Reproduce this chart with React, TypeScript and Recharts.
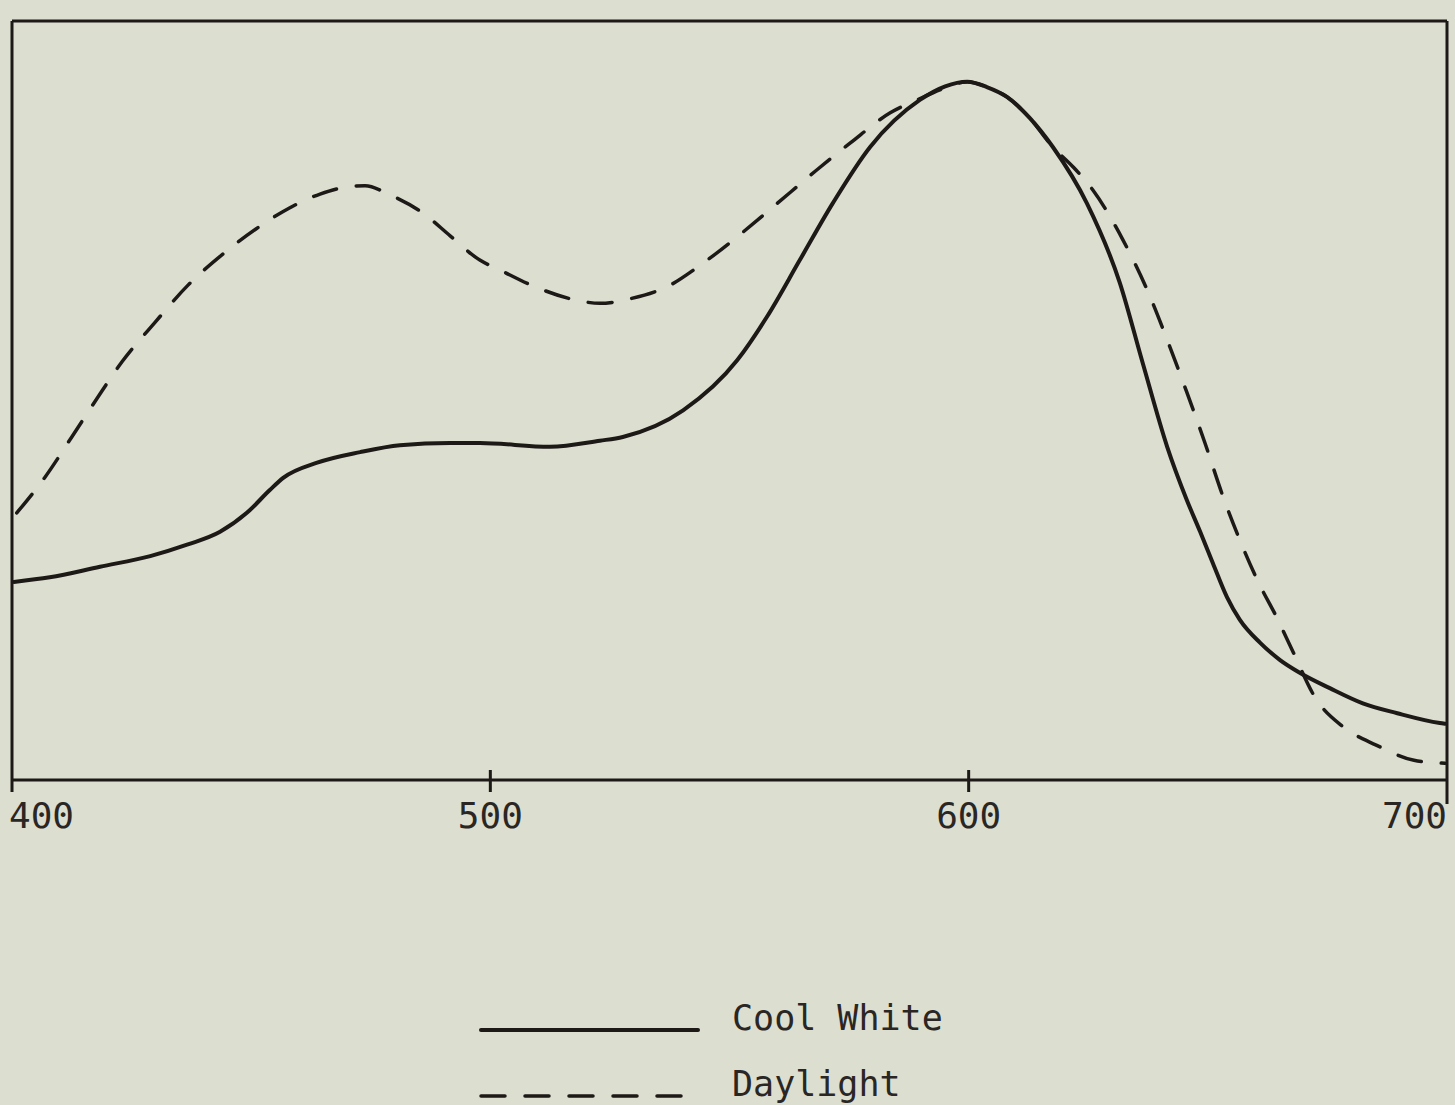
import React from 'react';
import { LineChart, Line, XAxis, YAxis, Legend } from 'recharts';

// wavelength (nm) tick labels
const wavelengthTicks = [400, 500, 600, 700];

// relative spectral power (0..100)
const coolWhite = [
  { nm: 400.4, v: 26.1 },
  { nm: 407.9, v: 26.7 },
  { nm: 418.4, v: 28.1 },
  { nm: 428.9, v: 29.5 },
  { nm: 436.6, v: 31.0 },
  { nm: 443.5, v: 32.7 },
  { nm: 449.1, v: 35.2 },
  { nm: 453.9, v: 38.2 },
  { nm: 456.7, v: 39.8 },
  { nm: 463.8, v: 41.8 },
  { nm: 472.8, v: 43.2 },
  { nm: 481.1, v: 44.1 },
  { nm: 491.6, v: 44.4 },
  { nm: 497.8, v: 44.4 },
  { nm: 512.5, v: 43.9 },
  { nm: 522.9, v: 44.7 },
  { nm: 527.7, v: 45.2 },
  { nm: 540.3, v: 48.7 },
  { nm: 551.6, v: 55.3 },
  { nm: 557.8, v: 61.0 },
  { nm: 564.7, v: 68.5 },
  { nm: 571.6, v: 76.0 },
  { nm: 579.4, v: 83.4 },
  { nm: 589.8, v: 89.6 },
  { nm: 595.1, v: 91.4 },
  { nm: 599.7, v: 92.0 },
  { nm: 603.8, v: 91.3 },
  { nm: 608.0, v: 90.0 },
  { nm: 612.8, v: 87.2 },
  { nm: 617.6, v: 83.4 },
  { nm: 624.7, v: 76.0 },
  { nm: 631.6, v: 65.5 },
  { nm: 636.4, v: 54.9 },
  { nm: 641.5, v: 43.9 },
  { nm: 645.6, v: 36.9 },
  { nm: 648.4, v: 32.7 },
  { nm: 651.1, v: 28.5 },
  { nm: 654.0, v: 24.1 },
  { nm: 656.7, v: 21.1 },
  { nm: 660.9, v: 18.1 },
  { nm: 665.1, v: 15.8 },
  { nm: 669.3, v: 14.1 },
  { nm: 675.5, v: 12.1 },
  { nm: 682.4, v: 10.1 },
  { nm: 689.6, v: 8.8 },
  { nm: 698.5, v: 7.5 },
  { nm: 699.6, v: 7.4 },
];

const daylight = [
  { nm: 401.0, v: 35.2 },
  { nm: 406.9, v: 39.9 },
  { nm: 412.5, v: 45.2 },
  { nm: 417.8, v: 50.3 },
  { nm: 423.0, v: 55.1 },
  { nm: 429.9, v: 60.3 },
  { nm: 436.8, v: 65.2 },
  { nm: 444.1, v: 69.3 },
  { nm: 451.0, v: 72.6 },
  { nm: 458.1, v: 75.4 },
  { nm: 464.4, v: 77.2 },
  { nm: 469.6, v: 78.1 },
  { nm: 473.8, v: 78.3 },
  { nm: 479.0, v: 77.1 },
  { nm: 485.9, v: 74.7 },
  { nm: 491.6, v: 71.7 },
  { nm: 497.8, v: 68.5 },
  { nm: 502.0, v: 67.2 },
  { nm: 509.3, v: 65.0 },
  { nm: 518.1, v: 63.2 },
  { nm: 522.9, v: 62.8 },
  { nm: 529.2, v: 63.4 },
  { nm: 537.6, v: 65.2 },
  { nm: 543.4, v: 67.6 },
  { nm: 550.1, v: 70.8 },
  { nm: 559.1, v: 75.5 },
  { nm: 568.3, v: 80.4 },
  { nm: 575.2, v: 83.9 },
  { nm: 583.6, v: 87.9 },
  { nm: 589.2, v: 89.6 },
  { nm: 595.1, v: 91.2 },
  { nm: 599.7, v: 92.0 },
  { nm: 603.8, v: 91.3 },
  { nm: 608.0, v: 90.0 },
  { nm: 612.8, v: 87.2 },
  { nm: 617.6, v: 83.4 },
  { nm: 621.8, v: 80.8 },
  { nm: 626.0, v: 77.7 },
  { nm: 632.3, v: 71.1 },
  { nm: 637.3, v: 64.6 },
  { nm: 642.1, v: 57.0 },
  { nm: 645.6, v: 51.1 },
  { nm: 649.4, v: 44.4 },
  { nm: 653.2, v: 37.3 },
  { nm: 656.7, v: 31.6 },
  { nm: 660.3, v: 26.4 },
  { nm: 664.5, v: 21.3 },
  { nm: 667.8, v: 16.9 },
  { nm: 672.4, v: 10.9 },
  { nm: 678.3, v: 7.0 },
  { nm: 685.2, v: 4.6 },
  { nm: 693.1, v: 2.6 },
  { nm: 699.6, v: 2.2 },
];

const seriesNames = ['Cool White', 'Daylight'];

const INK = '#1d1917';
const TEXT = '#2a2624';
const BG = '#dcded0';
const FONT = '"DejaVu Sans Mono", "Liberation Mono", monospace';
const DASH = '24 20';

const WavelengthTick = (props: any) => {
  const { x, y, payload, index } = props;
  const first = index === 0;
  const last = payload.value === 700;
  const anchor = first ? 'start' : last ? 'end' : 'middle';
  const y1 = first || last ? y : y - 10;
  const y2 = first ? y + 12 : last ? y + 24 : y + 12;
  return (
    <g>
      <line x1={x} x2={x} y1={y1} y2={y2} stroke={INK} strokeWidth={3} />
      <text
        x={first ? x - 3 : x}
        y={y + 48}
        textAnchor={anchor}
        fontFamily={FONT}
        fontSize={36}
        fill={TEXT}
      >
        {payload.value}
      </text>
    </g>
  );
};

const LegendContent = () => (
  <div style={{ position: 'relative', width: 520, height: 120, fontFamily: FONT, fontSize: 35, color: TEXT }}>
    {seriesNames.map((name, i) => (
      <div key={name} style={{ position: 'absolute', left: 0, top: i * 66, height: 60, width: 520 }}>
        <svg width={230} height={60} style={{ position: 'absolute', left: 0, top: 0 }}>
          <line
            x1={11}
            x2={228}
            y1={40}
            y2={40}
            stroke={INK}
            strokeWidth={i === 0 ? 4 : 3.5}
            strokeLinecap="round"
            strokeDasharray={i === 0 ? undefined : DASH}
          />
        </svg>
        <span style={{ position: 'absolute', left: 262, top: 4, whiteSpace: 'pre', lineHeight: '48px' }}>{name}</span>
      </div>
    ))}
  </div>
);

export default function App() {
  return (
    <div style={{ width: 1455, height: 1105, background: BG, position: 'relative' }}>
      <style>{`body{margin:0;background:${BG};}`}</style>
      <LineChart width={1455} height={1105} margin={{ top: 20, right: 7, bottom: 265, left: 11 }}>
        <XAxis
          dataKey="nm"
          type="number"
          domain={[400, 700]}
          ticks={wavelengthTicks}
          allowDataOverflow
          height={60}
          tickLine={false}
          tickSize={0}
          tickMargin={0}
          axisLine={{ stroke: INK, strokeWidth: 3 }}
          tick={<WavelengthTick />}
          interval={0}
        />
        <XAxis
          xAxisId="top"
          orientation="top"
          dataKey="nm"
          type="number"
          domain={[400, 700]}
          height={1}
          tick={false}
          tickLine={false}
          axisLine={{ stroke: INK, strokeWidth: 3 }}
        />
        <YAxis
          type="number"
          domain={[0, 100]}
          width={1}
          tick={false}
          tickLine={false}
          axisLine={{ stroke: INK, strokeWidth: 3 }}
        />
        <YAxis
          yAxisId="right"
          orientation="right"
          type="number"
          domain={[0, 100]}
          width={1}
          tick={false}
          tickLine={false}
          axisLine={{ stroke: INK, strokeWidth: 3 }}
        />
        <Line
          data={coolWhite}
          dataKey="v"
          name={seriesNames[0]}
          type="monotone"
          dot={false}
          stroke={INK}
          strokeWidth={4}
          strokeLinecap="round"
          isAnimationActive={false}
        />
        <Line
          data={daylight}
          dataKey="v"
          name={seriesNames[1]}
          type="monotone"
          dot={false}
          stroke={INK}
          strokeWidth={3.5}
          strokeDasharray={DASH}
          strokeLinecap="round"
          isAnimationActive={false}
        />
        <Legend
          layout="vertical"
          align="center"
          verticalAlign="middle"
          content={<LegendContent />}
          wrapperStyle={{ left: 470, top: 990, width: 520, height: 120 }}
        />
      </LineChart>
    </div>
  );
}
